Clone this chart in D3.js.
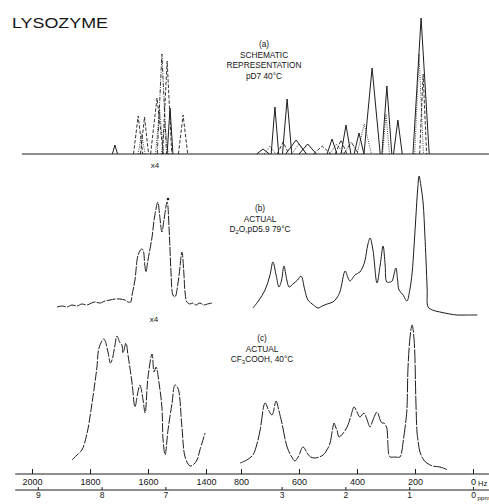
<!DOCTYPE html>
<html>
<head>
<meta charset="utf-8">
<script src="https://cdn.jsdelivr.net/npm/d3@7"></script>
<style>
  body { margin: 0; background: #fff; }
  svg { display: block; }
  text { font-family: "Liberation Sans", Arial, sans-serif; fill: #151515; }
</style>
</head>
<body>
<svg id="chart" width="489" height="504"></svg>
<script>
// ---- Axis definitions (220 MHz spectrometer: 220 Hz per ppm) ----
const hzTicksLow = [2000, 1800, 1600, 1400];
const hzTicksHigh = [800, 600, 400, 200, 0];
const ppmTicksLow = [9, 8, 7];
const ppmTicksHigh = [3, 2, 1, 0];
const hzPerPpm = 220;

// ---- (a) schematic: component peaks [style, shift Hz, height, half-width Hz] ----
const schematicAromatic = [
  ["solid", 1714, 9, 9],
  ["dashed", 1634, 38, 16],
  ["dashed", 1612, 37, 14],
  ["dotted", 1622, 20, 12],
  ["dashed", 1569, 56, 22],
  ["dotted", 1560, 45, 14],
  ["dashdot", 1552, 100, 16],
  ["dashed", 1534, 93, 16],
  ["dotted", 1542, 30, 12],
  ["solid", 1524, 46, 10],
  ["dashed", 1479, 39, 16]
];
const schematicAliphatic = [
  ["solid", 724, 5, 22],
  ["dotted", 700, 8, 20],
  ["solid", 683, 47, 13],
  ["dashed", 655, 12, 20],
  ["solid", 641, 55, 16],
  ["solid", 610, 14, 36],
  ["dotted", 600, 10, 25],
  ["solid", 570, 10, 30],
  ["dashed", 520, 8, 30],
  ["solid", 486, 15, 17],
  ["dotted", 470, 10, 25],
  ["dashed", 455, 14, 20],
  ["solid", 438, 29, 17],
  ["dashdot", 420, 12, 25],
  ["solid", 393, 21, 17],
  ["dotted", 375, 30, 25],
  ["solid", 348, 86, 28],
  ["dotted", 300, 40, 12],
  ["solid", 297, 68, 17],
  ["solid", 259, 34, 15],
  ["dotted", 186, 100, 15],
  ["solid", 179, 136, 28],
  ["dashed", 172, 80, 12]
];

// ---- (b) actual, D2O pD 5.9, 79 °C: [shift Hz, intensity] ----
const actualD2OAromatic = [
  [1914, 8], [1895, 9], [1880, 8], [1862, 10], [1845, 9], [1828, 11], [1810, 10],
  [1795, 12], [1783, 13], [1765, 12], [1748, 14], [1731, 15], [1714, 16], [1697, 16],
  [1680, 15], [1669, 13], [1660, 13], [1655, 20], [1645, 35], [1634, 60], [1622, 66],
  [1617, 65], [1611, 50], [1607, 43], [1600, 55], [1586, 78], [1579, 95], [1566, 113],
  [1560, 100], [1552, 83], [1545, 95], [1534, 113], [1527, 85], [1521, 45], [1514, 20],
  [1507, 18], [1495, 35], [1483, 63], [1477, 45], [1472, 22], [1466, 13], [1455, 11],
  [1445, 12], [1435, 10], [1421, 12], [1408, 10], [1395, 11], [1379, 12]
];
const actualD2OAliphatic = [
  [759, 7], [740, 14], [717, 25], [700, 40], [690, 53], [679, 40], [669, 28], [660, 35],
  [652, 49], [642, 35], [634, 28], [621, 31], [605, 35], [593, 39], [580, 25], [569, 15],
  [550, 10], [534, 7], [520, 9], [503, 11], [483, 13], [470, 17], [459, 23], [441, 44],
  [432, 38], [424, 34], [407, 40], [390, 43], [380, 48], [372, 55], [363, 70], [355, 77],
  [345, 65], [331, 32], [320, 50], [310, 69], [303, 50], [297, 33], [285, 33], [279, 34],
  [266, 47], [260, 35], [255, 25], [241, 20], [228, 14], [218, 25], [210, 42], [203, 70],
  [197, 98], [191, 125], [186, 139], [180, 130], [172, 112], [166, 80], [162, 55],
  [158, 25], [155, 8], [140, 5], [114, 3], [80, 1], [55, 0], [20, 0], [-15, 0]
];
const d2oMarker = [1531, 116];

// ---- (c) actual, CF3COOH, 40 °C: [shift Hz, intensity] ----
const actualTfaAromatic = [
  [1862, 12], [1845, 17], [1828, 22], [1810, 39], [1793, 69], [1776, 105], [1769, 124],
  [1752, 133], [1738, 120], [1730, 109], [1724, 112], [1715, 125], [1707, 136],
  [1698, 130], [1690, 127], [1686, 119], [1676, 129], [1669, 117], [1655, 89],
  [1645, 65], [1636, 78], [1628, 87], [1617, 72], [1610, 59], [1600, 95], [1586, 118],
  [1579, 100], [1572, 105], [1562, 89], [1552, 65], [1548, 32], [1541, 17], [1531, 42],
  [1517, 69], [1507, 87], [1497, 84], [1483, 45], [1472, 15], [1455, 6], [1441, 8],
  [1431, 12], [1421, 22], [1403, 39]
];
const actualTfaAliphatic = [
  [803, 9], [780, 12], [759, 17], [745, 28], [734, 42], [717, 69], [705, 62], [693, 57],
  [679, 71], [670, 62], [659, 49], [641, 25], [625, 15], [614, 11], [603, 15], [586, 25],
  [572, 19], [560, 15], [545, 14], [517, 17], [500, 24], [493, 29], [486, 40], [483, 45],
  [479, 49], [474, 45], [469, 42], [462, 35], [450, 38], [434, 45], [422, 55], [410, 65],
  [400, 60], [390, 55], [376, 59], [365, 52], [355, 45], [345, 52], [331, 60], [320, 52],
  [314, 49], [307, 49], [300, 46], [297, 44], [290, 17], [286, 15], [270, 15], [252, 15],
  [246, 20], [241, 30], [234, 45], [228, 62], [224, 105], [217, 135], [210, 147],
  [203, 132], [197, 72], [193, 40], [188, 28], [183, 20], [170, 12], [159, 9], [140, 6],
  [114, 5], [86, 2]
];

// ---- Scales: broken frequency axis (aromatic / aliphatic regions) ----
const xLow = d3.scaleLinear().domain([2000, 1400]).range([32, 206]);
const xHigh = d3.scaleLinear().domain([800, 0]).range([241, 473]);
const ppmLow = d3.scaleLinear().domain(xLow.domain().map(h => h / hzPerPpm)).range(xLow.range());
const ppmHigh = d3.scaleLinear().domain(xHigh.domain().map(h => h / hzPerPpm)).range(xHigh.range());

const yA = d3.scaleLinear().domain([0, 140]).range([154, 14]);
const yB = d3.scaleLinear().domain([0, 140]).range([315, 175]);
const yC = d3.scaleLinear().domain([0, 150]).range([472, 322]);

const svg = d3.select("#chart");
const ink = "#1e1e1e";

// Title
svg.append("text").attr("x", 12).attr("y", 28)
  .attr("font-size", 15.5).attr("textLength", 96).attr("lengthAdjust", "spacingAndGlyphs")
  .text("LYSOZYME");

// ---- (a) schematic ----
const dashes = { solid: null, dashed: "3.5,1.8", dotted: "0.9,1.3", dashdot: "4,1.3,1,1.3" };
const tri = (x, y) => d3.line().x(d => x(d[0])).y(d => y(d[1]));

svg.append("line")
  .attr("x1", xLow(2035)).attr("x2", xHigh(-55))
  .attr("y1", yA(0)).attr("y2", yA(0))
  .attr("stroke", ink).attr("stroke-width", 1.1);

function drawSchematic(list, x) {
  svg.append("g").selectAll("path").data(list).join("path")
    .attr("d", d => tri(x, yA)([[d[1] + d[3], 0], [d[1], d[2]], [d[1] - d[3], 0]]))
    .attr("fill", "none").attr("stroke", ink)
    .attr("stroke-width", d => d[0] === "solid" ? 1 : 0.9)
    .attr("stroke-dasharray", d => dashes[d[0]]);
}
drawSchematic(schematicAromatic, xLow);
drawSchematic(schematicAliphatic, xHigh);

// ---- Recorded spectra (b) and (c) ----
function spectrum(data, x, y, dash) {
  svg.append("path").datum(data)
    .attr("d", d3.line().x(d => x(d[0])).y(d => y(d[1])).curve(d3.curveCatmullRom.alpha(0.5)))
    .attr("fill", "none").attr("stroke", ink).attr("stroke-width", 1)
    .attr("stroke-dasharray", dash);
}
spectrum(actualD2OAromatic, xLow, yB, "9,1.4");
spectrum(actualD2OAliphatic, xHigh, yB, null);
svg.append("circle").attr("cx", xLow(d2oMarker[0])).attr("cy", yB(d2oMarker[1]))
  .attr("r", 1.3).attr("fill", ink);
spectrum(actualTfaAromatic, xLow, yC, "9,1.6");
spectrum(actualTfaAliphatic, xHigh, yC, "14,1.4");

// ---- Panel annotations ----
function labelBlock(cx, y0, lines) {
  const g = svg.append("g").attr("font-size", 8.3).attr("text-anchor", "middle");
  lines.forEach((parts, i) => {
    const t = g.append("text").attr("x", cx).attr("y", y0 + i * 10.5);
    parts.forEach(p => {
      const s = t.append("tspan").text(p[0]);
      if (p[1]) s.attr("font-size", 6).attr("dy", 2);
      if (p[2]) s.attr("dy", -2);
    });
  });
}
labelBlock(264, 47, [[["(a)"]], [["SCHEMATIC"]], [["REPRESENTATION"]], [["pD7 40°C"]]]);
labelBlock(260, 211, [[["(b)"]], [["ACTUAL"]], [["D"], ["2", true], ["O,pD5.9 79°C", false, true]]]);
labelBlock(262, 341, [[["(c)"]], [["ACTUAL"]], [["CF"], ["3", true], ["COOH, 40°C", false, true]]]);

svg.append("text").attr("x", 155).attr("y", 168).attr("font-size", 8).attr("text-anchor", "middle").text("x4");
svg.append("text").attr("x", 154).attr("y", 322).attr("font-size", 8).attr("text-anchor", "middle").text("x4");

// ---- Frequency (Hz) axis ----
const hzY = 474;
svg.append("line").attr("x1", xLow(2058)).attr("x2", xHigh(-55))
  .attr("y1", hzY).attr("y2", hzY).attr("stroke", ink).attr("stroke-width", 1.1);
function styleAxis(g) {
  g.select(".domain").remove();
  g.selectAll("line").attr("stroke", ink).attr("stroke-width", 1);
  g.selectAll("text").attr("fill", "#151515")
    .attr("font-family", '"Liberation Sans", Arial, sans-serif');
}
const hzG = svg.append("g").attr("transform", `translate(0,${hzY})`).attr("font-size", 9);
hzG.append("g").call(d3.axisBottom(xLow).tickValues(hzTicksLow).tickSize(-5).tickPadding(5).tickFormat(d3.format("d"))).call(styleAxis);
hzG.append("g").call(d3.axisBottom(xHigh).tickValues(hzTicksHigh).tickSize(-5).tickPadding(5).tickFormat(d3.format("d"))).call(styleAxis);
hzG.selectAll("text").attr("font-size", 9);
svg.append("text").attr("x", xHigh(0) + 5).attr("y", hzY + 11.5).attr("font-size", 7.5).text("Hz");

// ---- Chemical shift (ppm) axis ----
const ppmY = 490;
svg.append("line").attr("x1", xLow(2058)).attr("x2", xHigh(-55))
  .attr("y1", ppmY).attr("y2", ppmY).attr("stroke", ink).attr("stroke-width", 1.1);
const ppmG = svg.append("g").attr("transform", `translate(0,${ppmY})`);
ppmG.append("g").call(d3.axisBottom(ppmLow).tickValues(ppmTicksLow).tickSize(-3).tickPadding(2).tickFormat(d3.format("d"))).call(styleAxis);
ppmG.append("g").call(d3.axisBottom(ppmHigh).tickValues(ppmTicksHigh).tickSize(-3).tickPadding(2).tickFormat(d3.format("d"))).call(styleAxis);
ppmG.selectAll("text").attr("font-size", 8.5);
svg.append("text").attr("x", xHigh(0) + 4.5).attr("y", ppmY + 10).attr("font-size", 6.2).text("ppm");
</script>
</body>
</html>
